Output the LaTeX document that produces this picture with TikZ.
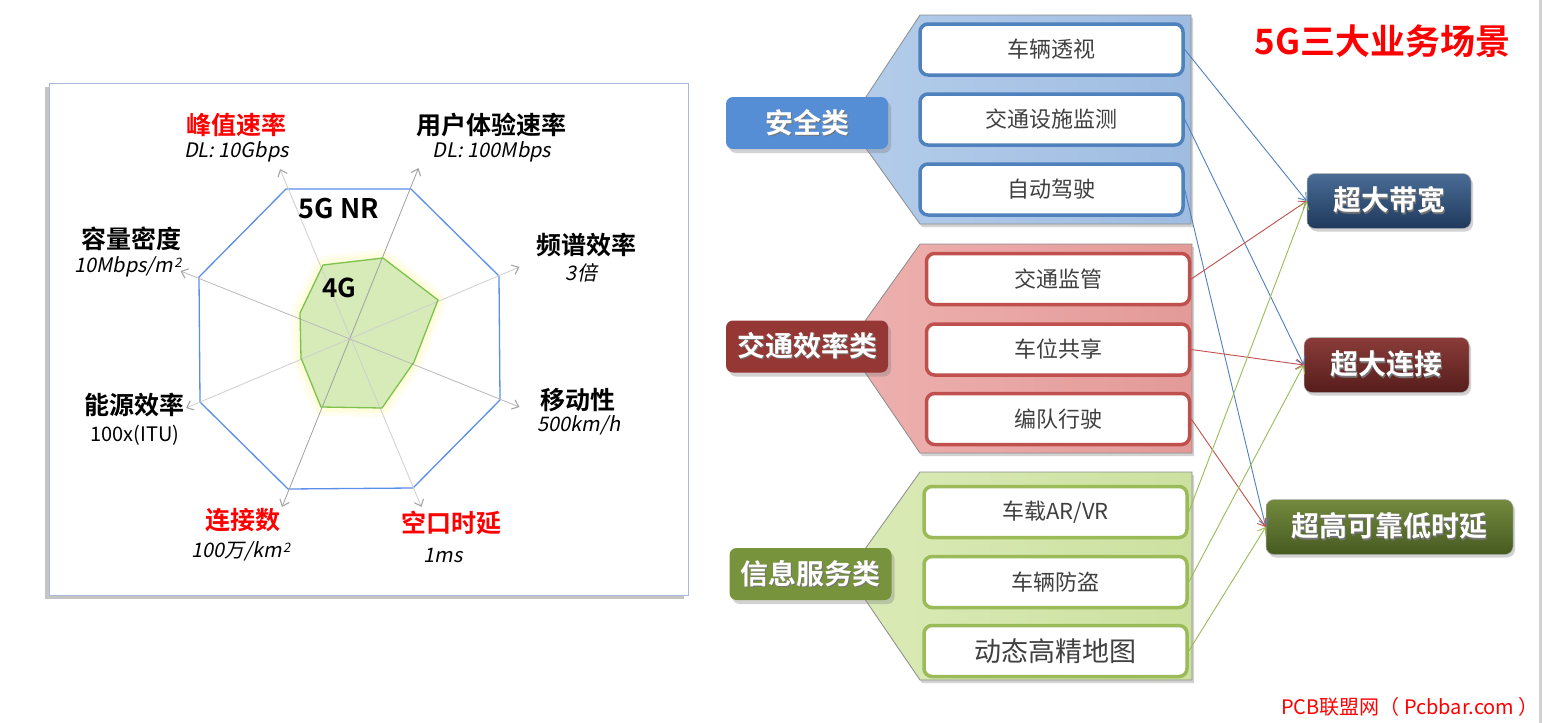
\documentclass[tikz,border=0pt]{standalone}
\usepackage{fontspec}
\setmainfont{Noto Sans CJK SC}[BoldFont={* Bold},ItalicFont={*},ItalicFeatures={FakeSlant=0.2}]
\usetikzlibrary{arrows.meta,shadows,calc}
\definecolor{octblue}{HTML}{5B8FE8}
\definecolor{gfill}{HTML}{D6EBB8}
\definecolor{gline}{HTML}{7CC24C}
\definecolor{axdark}{HTML}{A0A0A0}
\definecolor{axlight}{HTML}{CFCFCF}
\definecolor{tipgray}{HTML}{A6A6A6}
\definecolor{lpborder}{HTML}{A9BAD6}
\definecolor{lblue}{HTML}{558ED5}
\definecolor{pblueA}{HTML}{B3CCEA}
\definecolor{pblueB}{HTML}{9FBCE1}
\definecolor{bblue}{HTML}{4F81BD}
\definecolor{lred}{HTML}{953735}
\definecolor{predA}{HTML}{EDB0AE}
\definecolor{predB}{HTML}{E39A98}
\definecolor{bred}{HTML}{C0504D}
\definecolor{lgreen}{HTML}{77933C}
\definecolor{pgreenA}{HTML}{DAEAB6}
\definecolor{pgreenB}{HTML}{CCE1A0}
\definecolor{bgreen}{HTML}{9BBB59}
\definecolor{txtgray}{HTML}{404040}
\definecolor{r1top}{HTML}{4A6C96}
\definecolor{r1bot}{HTML}{1F3A5C}
\definecolor{r2top}{HTML}{8A3C39}
\definecolor{r2bot}{HTML}{561D1B}
\definecolor{r3top}{HTML}{738A3E}
\definecolor{r3bot}{HTML}{465A20}
\definecolor{pureRed}{HTML}{FF0000}
\newcommand{\shtxt}[1]{\makebox[0pt][l]{\kern1.3pt\raisebox{-1.3pt}{\textcolor{black!55}{#1}}}#1}
\newcommand{\supsq}{\kern1pt\smash{\raisebox{0.5ex}{\fontsize{13}{14}\selectfont 2}}}
\tikzset{
  radlab/.style={font=\bfseries\fontsize{25}{29}\selectfont, inner sep=0pt},
  radval/.style={font=\itshape\fontsize{20}{24}\selectfont, inner sep=0pt},
  radaxis/.style={line width=0.8pt, {Straight Barb[length=6pt,width=10pt,line width=1.1pt,color=tipgray]}-{Straight Barb[length=6pt,width=10pt,line width=1.1pt,color=tipgray]}},
  catbox/.style={rounded corners=7pt, minimum width=162pt, minimum height=52pt, inner sep=0pt, text=white,
     font=\bfseries\fontsize{28}{32}\selectfont,
     drop shadow={shadow xshift=3pt, shadow yshift=-4pt, opacity=0.35}},
  itembox/.style={rounded corners=8pt, fill=white, line width=3.5pt, minimum width=263pt, minimum height=51pt,
     inner sep=0pt, text=txtgray, font=\fontsize{22}{26}\selectfont},
  panel/.style={draw=black!45, line width=0.8pt,
     drop shadow={shadow xshift=2pt, shadow yshift=-3pt, opacity=0.35}},
  resbox/.style={rounded corners=8pt, inner sep=0pt, minimum height=55pt, text=white,
     font=\bfseries\fontsize{28}{32}\selectfont, draw=black!30, line width=0.5pt,
     drop shadow={shadow xshift=2pt, shadow yshift=-3pt, opacity=0.35}},
  conn/.style={line width=0.9pt, -{Straight Barb[length=7pt,width=10pt]}}
}
\begin{document}
\begin{tikzpicture}[x=1pt,y=-1pt]
\useasboundingbox (0,0) rectangle (1543,723);
\fill[white] (0,0) rectangle (1543,723);
\draw[gray!35, line width=2.5pt] (1540.5,0) -- (1540.5,723);

% ---------- left panel ----------
\node[draw=lpborder, line width=1pt, fill=white, minimum width=639pt, minimum height=512pt, inner sep=0pt,
  drop shadow={shadow xshift=-4pt, shadow yshift=-4pt, opacity=0.45}] (lpanel) at (368.5,339) {};

% radar geometry
\coordinate (c) at (350,338);
\coordinate (tTL) at (280,169);   \coordinate (tBR) at (421.5,507);
\coordinate (tTR) at (418.5,168); \coordinate (tBL) at (282,507);
\coordinate (tRU) at (519.5,267); \coordinate (tLD) at (186,408);
\coordinate (tRD) at (519.5,407); \coordinate (tLU) at (180.5,271);

% 5G octagon
\draw[octblue, line width=1.3pt, line join=round] (286,189) -- (411,189) -- (499,276) -- (500,400) -- (413,488) -- (288,489) -- (200,402) -- (199,277) -- cycle;

% 4G polygon with glow
\def\gpoly{(323,265) -- (383,258) -- (438,300) -- (414,362) -- (382,408) -- (321,407) -- (301,358) -- (300,313) -- cycle}
\draw[yellow!30, opacity=0.18, line width=18pt, line join=round] \gpoly;
\draw[yellow!40, opacity=0.22, line width=10pt, line join=round] \gpoly;
\fill[gfill] \gpoly;

% axes
\draw[radaxis, axlight] (tTL) -- (tBR);
\draw[radaxis, axdark] (tTR) -- (tBL);
\draw[radaxis, axlight] (tRU) -- (tLD);
\draw[radaxis, axlight!90!black] (tRD) -- (tLU);

\draw[gline, line width=1.3pt, line join=round] \gpoly;

\node[font=\bfseries\fontsize{27}{31}\selectfont, inner sep=0pt] (nr5g) at (339,209) {5G NR};
\node[font=\bfseries\fontsize{26}{30}\selectfont, inner sep=0pt] (n4g) at (339.5,288) {4G};

% radar labels
\node[radlab, text=pureRed] (l1) at (236,125) {峰值速率};
\node[radval] (v1) at (236.5,152) {DL: 10Gbps};
\node[radlab] (l2) at (491.5,125) {用户体验速率};
\node[radval] (v2) at (492,152) {DL: 100Mbps};
\node[radlab] (l3) at (131,239) {容量密度};
\node[radval] (v3) at (128,267) {10Mbps/m\supsq};
\node[radlab] (l4) at (586,245) {频谱效率};
\node[radval] (v4) at (581.5,273) {3倍};
\node[radlab] (l5) at (577.5,400) {移动性};
\node[radval] (v5) at (579,425) {500km/h};
\node[radlab] (l6) at (134,405) {能源效率};
\node[font=\fontsize{20}{24}\selectfont, inner sep=0pt] (v6) at (135,435) {100x(ITU)};
\node[radlab, text=pureRed] (l7) at (242.5,520) {连接数};
\node[radval] (v7) at (241,551.5) {100万/km\supsq};
\node[radlab, text=pureRed] (l8) at (451.5,523) {空口时延};
\node[radval] (v8) at (443,555) {1ms};

% ---------- right part ----------
\node[font=\bfseries\fontsize{35}{40}\selectfont, text=pureRed, inner sep=0pt] (title) at (1382.5,41) {5G三大业务场景};

% panels
\path[panel, left color=pblueA, right color=pblueB] (920,15) -- (1191,15) -- (1191,224) -- (920,224) -- (860,140) -- (860,106) -- cycle;
\path[panel, left color=predA, right color=predB] (920,244) -- (1192,244) -- (1192,453) -- (920,453) -- (860,365) -- (860,328) -- cycle;
\path[panel, left color=pgreenA, right color=pgreenB] (920,472) -- (1192,472) -- (1192,680) -- (920,680) -- (860,592) -- (860,556) -- cycle;

% category labels
\node[catbox, fill=lblue] (cat1) at (807,123) {\shtxt{安全类}};
\node[catbox, fill=lred] (cat2) at (807,346.5) {\shtxt{交通效率类}};
\node[catbox, fill=lgreen] (cat3) at (810.5,574) {\shtxt{信息服务类}};

% items
\node[itembox, draw=bblue] (a1) at (1051.5,49.5) {车辆透视};
\node[itembox, draw=bblue] (a2) at (1051.5,119.5) {交通设施监测};
\node[itembox, draw=bblue] (a3) at (1051.5,189.5) {自动驾驶};
\node[itembox, draw=bred] (b1) at (1058,279) {交通监管};
\node[itembox, draw=bred] (b2) at (1058,349.5) {车位共享};
\node[itembox, draw=bred] (b3) at (1058,419) {编队行驶};
\node[itembox, draw=bgreen] (g1) at (1055.5,512) {车载AR/VR};
\node[itembox, draw=bgreen] (g2) at (1055.5,582) {车辆防盗};
\node[itembox, draw=bgreen, font=\fontsize{27}{31}\selectfont] (g3) at (1055.5,651) {动态高精地图};

% results
\node[resbox, minimum width=164pt, top color=r1top, bottom color=r1bot] (r1) at (1389,201) {\shtxt{超大带宽}};
\node[resbox, minimum width=165pt, top color=r2top, bottom color=r2bot] (r2) at (1386.5,365) {\shtxt{超大连接}};
\node[resbox, minimum width=247pt, top color=r3top, bottom color=r3bot] (r3) at (1389.5,527) {\shtxt{超高可靠低时延}};

% connectors
\draw[conn, bblue] (a1.east) -- (r1.west);
\draw[conn, bblue] (a2.east) -- (r2.west);
\draw[conn, bblue] (a3.east) -- (r3.west);
\draw[conn, bred] (b1.east) -- (r1.west);
\draw[conn, bred] (b2.east) -- (r2.west);
\draw[conn, bred] (b3.east) -- (r3.west);
\draw[conn, bgreen] (g1.east) -- (r1.west);
\draw[conn, bgreen] (g2.east) -- (r2.west);
\draw[conn, bgreen] (g3.east) -- (r3.west);

% watermark
\node[font=\fontsize{20}{24}\selectfont, text=pureRed, inner sep=0pt] (wm) at (1410,707) {PCB联盟网（ Pcbbar.com ）};
\end{tikzpicture}
\end{document}
